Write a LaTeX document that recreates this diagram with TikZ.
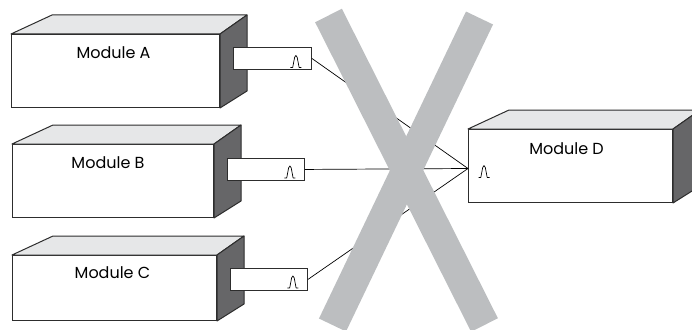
\documentclass[tikz,border=0pt]{standalone}
\usepackage{fontspec}
\setmainfont{Poppins}
\usepackage{tikz}
\usetikzlibrary{calc}
\usetikzlibrary{positioning}

\definecolor{topgray}{RGB}{230,231,232}
\definecolor{sidegray}{RGB}{102,102,104}
\definecolor{crossgray}{RGB}{188,190,192}
\definecolor{edgegray}{RGB}{45,45,45}

\begin{document}
\begin{tikzpicture}[
        x=1pt, y=-1pt,
        every node/.style={font=\fontsize{16}{18}\selectfont},
        front/.style={draw=edgegray, line width=1pt, fill=white,
            inner sep=0pt, anchor=north west},
        topface/.style={draw=edgegray, line width=1pt, fill=topgray,
            line join=round},
        sideface/.style={draw=edgegray, line width=1pt, fill=sidegray,
            line join=round},
        port/.style={draw=edgegray, line width=0.9pt, fill=white,
            inner sep=0pt, minimum width=77pt, minimum height=22pt,
            anchor=north west},
        wire/.style={draw=black, line width=0.7pt},
        cross/.style={draw=crossgray, line width=30pt},
        pulse/.pic={
            \draw[line width=0.7pt, line join=round]
                (-5.5,0) -- (-3.2,0) -- (-1.3,-10)
                .. controls (-0.7,-12.6) and (0.7,-12.6) .. (1.3,-10)
                -- (3.2,0) -- (5.5,0);
        }
    ]

    \clip (0,0) rectangle (692,329);
    \useasboundingbox (0,0) rectangle (692,329);

    % front faces
    \node[front, minimum width=208pt, minimum height=73pt] (A) at (11,34) {};
    \node[front, minimum width=201pt, minimum height=73pt] (B) at (12,144) {};
    \node[front, minimum width=204pt, minimum height=65pt] (C) at (12,255) {};
    \node[front, minimum width=204pt, minimum height=73pt] (D) at (468,129) {};

    % top and side faces
    \foreach \m in {A,B,C,D} {
        \draw[topface] (\m.north west) -- ++(41,-19)
            -- ($(\m.north east)+(27,-19)$) -- (\m.north east) -- cycle;
        \draw[sideface] (\m.north east) -- ++(27,-19)
            -- ($(\m.south east)+(27,-17)$) -- (\m.south east) -- cycle;
    }

    \node at ($(A.north)+(-2,19)$) {Module A};
    \node at ($(B.north)+(-5,19)$) {Module B};
    \node at ($(C.north)+(-2,18)$) {Module C};
    \node at ($(D.north)+(-4,20)$) {Module D};

    % output ports
    \node[port, minimum width=78pt] (PA) at (233,47) {};
    \node[port] (PB) at (227,158) {};
    \node[port] (PC) at (230,268) {};

    \pic at ($(PA.south east)+(-16,-2.5)$) {pulse};
    \pic at ($(PB.south east)+(-15,-3)$) {pulse};
    \pic at ($(PC.south east)+(-15,-3)$) {pulse};
    \pic at ($(D.west)+(16,11.5)$) {pulse};

    \coordinate (DIn) at ($(D.west)+(0,2.5)$);

    \draw[wire] (PA.east) -- (DIn);
    \draw[wire] (PB.east) -- (DIn);
    \draw[wire] (PC.east) -- (DIn);

    % the big X on top
    \draw[cross] (328.5,15.5) -- (484.5,325);
    \draw[cross] (479.5,18) -- (332.5,325);

\end{tikzpicture}
\end{document}
